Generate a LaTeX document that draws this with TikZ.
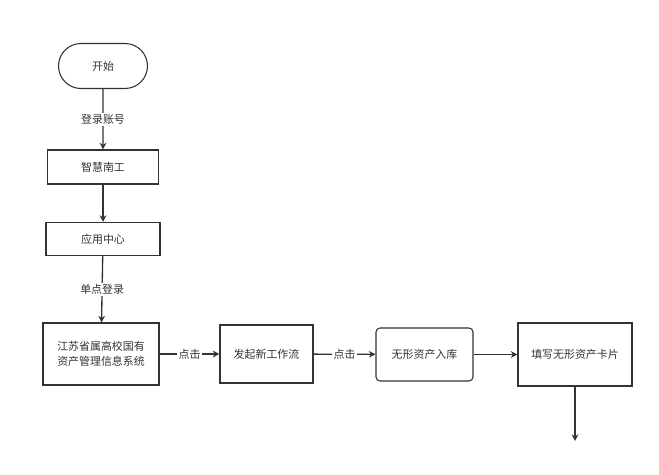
\documentclass[tikz,border=0pt]{standalone}
\usepackage{fontspec}
\newfontfamily\cjk{Noto Sans CJK SC}
\usetikzlibrary{arrows.meta,shapes.misc}
\begin{document}
\begin{tikzpicture}[x=0.75pt,y=-0.75pt,
  font=\cjk\fontsize{8.2}{11}\selectfont,
  box/.style={draw=black!80,line width=0.8pt,fill=white,inner sep=0pt,align=center,text=black!80},
  conn/.style={draw=black!80,line width=1pt,-{Stealth[length=5pt,width=5pt]}},
  lbl/.style={fill=white,inner sep=1pt,text=black!80}]
\useasboundingbox (0,0) rectangle (659,474);
\node[box,rounded rectangle,minimum width=89*0.75pt,minimum height=45*0.75pt] (start) at (103,66) {开始};
\node[box,minimum width=111*0.75pt,minimum height=34*0.75pt] (zh) at (103,167) {智慧南工};
\node[box,minimum width=114*0.75pt,minimum height=33*0.75pt] (yy) at (103,239) {应用中心};
\node[box,minimum width=116*0.75pt,minimum height=62*0.75pt] (js) at (101,354) {江苏省属高校国有\\资产管理信息系统};
\node[box,minimum width=93*0.75pt,minimum height=58*0.75pt] (fq) at (266.5,354) {发起新工作流};
\node[box,rounded corners=3pt,minimum width=97*0.75pt,minimum height=53*0.75pt] (wx) at (424.5,354.5) {无形资产入库};
\node[box,minimum width=114*0.75pt,minimum height=63*0.75pt] (tx) at (575,354.5) {填写无形资产卡片};
\coordinate (end) at (575,441);
\draw[conn] (start) -- node[lbl]{登录账号} (zh);
\draw[conn] (zh) -- (yy);
\draw[conn] (yy) -- node[lbl]{单点登录} (js);
\draw[conn] (js) -- node[lbl,pos=0.5]{点击} (fq);
\draw[conn] (fq) -- node[lbl,pos=0.5]{点击} (wx);
\draw[conn] (wx) -- (tx);
\draw[conn] (tx) -- (end);
\end{tikzpicture}
\end{document}
